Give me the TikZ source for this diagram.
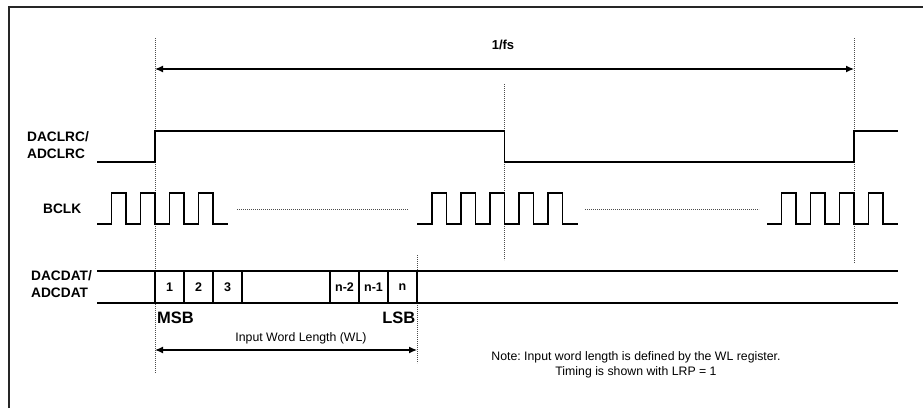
\documentclass[tikz,border=0pt]{standalone}
\usepackage{fontspec}
\setmainfont{Liberation Sans}
\usetikzlibrary{arrows.meta}
\begin{document}
\frenchspacing
\begin{tikzpicture}[x=1pt,y=-1pt,
  sig/.style={line width=1.5pt, line join=miter},
  rail/.style={line width=1.3pt},
  guide/.style={line width=0.6pt, black!70, dash pattern=on 0.8pt off 1.2pt},
  clkdots/.style={line width=0.6pt, black!70, dash pattern=on 0.8pt off 1.2pt},
  dimarrow/.style={line width=1.3pt, {Latex[length=8pt,width=7pt]}-{Latex[length=8pt,width=7pt]}},
  lbl/.style={font=\fontsize{13.7}{17}\selectfont\bfseries, inner sep=0pt, align=left, anchor=west},
  bit/.style={draw, line width=1.3pt, minimum width=29pt, minimum height=32pt, inner sep=0pt, font=\fontsize{12.5}{14}\selectfont\bfseries},
  note/.style={font=\fontsize{12.3}{15}\selectfont, inner sep=0pt, align=center},
  frame/.style={line width=1.5pt, black!85}]
\useasboundingbox (0,0) rectangle (923,408);

% frame (cropped at right and bottom)
\coordinate (fbl) at (9,408);
\coordinate (ftl) at (9,7);
\coordinate (ftr) at (923,7);
\draw[frame] (fbl) -- (ftl) -- (ftr);

% guide lines
\coordinate (g1t) at (155,38);  \coordinate (g1b) at (155,373);
\coordinate (g2t) at (504.5,84); \coordinate (g2b) at (504.5,260);
\coordinate (g3t) at (854,38);  \coordinate (g3b) at (854,263);
\coordinate (g4t) at (417,255); \coordinate (g4b) at (417,363);
\draw[guide] (g1t) -- (g1b);
\draw[guide] (g2t) -- (g2b);
\draw[guide] (g3t) -- (g3b);
\draw[guide] (g4t) -- (g4b);

% 1/fs
\coordinate (fsL) at (155,69);
\coordinate (fsR) at (854,69);
\draw[dimarrow] (fsL) -- (fsR);
\node[font=\fontsize{13}{15}\selectfont\bfseries, inner sep=0pt] (fs) at (503,45) {1/fs};

% labels
\node[lbl] (lrc) at (27,145.5) {DACLRC/\\ADCLRC};
\node[lbl] (bclk) at (43,209) {BCLK};
\node[lbl] (dat) at (31,284.5) {DACDAT/\\ADCDAT};

% LRC waveform
\draw[sig] (97,162) -- (155,162) -- (155,131) -- (504.5,131) -- (504.5,162) -- (854,162) -- (854,131) -- (898,131);

% BCLK waveform
\draw[sig] (97,224) foreach \r in {111.5,140.5,169.5,198.5} { -- (\r,224) -- (\r,193) -- ({\r+14.5},193) -- ({\r+14.5},224) } -- (228,224);
\draw[sig] (417,224) foreach \r in {432,461,490,519,548} { -- (\r,224) -- (\r,193) -- ({\r+14.5},193) -- ({\r+14.5},224) } -- (578,224);
\draw[sig] (767,224) foreach \r in {781.5,810.5,839.5,868.5} { -- (\r,224) -- (\r,193) -- ({\r+14.5},193) -- ({\r+14.5},224) } -- (898,224);
\coordinate (d1a) at (237,209); \coordinate (d1b) at (408,209);
\coordinate (d2a) at (585,209); \coordinate (d2b) at (759,209);
\draw[clkdots] (d1a) -- (d1b);
\draw[clkdots] (d2a) -- (d2b);

% data rails
\coordinate (rtL) at (97,271); \coordinate (rtR) at (898,271);
\coordinate (rbL) at (97,303); \coordinate (rbR) at (898,303);
\draw[rail] (rtL) -- (rtR);
\draw[rail] (rbL) -- (rbR);

% bit boxes
\node[bit] (b1) at (169.5,287) {1};
\node[bit] (b2) at (198.5,287) {2};
\node[bit] (b3) at (227.5,287) {3};
\node[bit] (bn2) at (344.5,287) {n-2};
\node[bit] (bn1) at (373.5,287) {n-1};
\node[bit] (bn) at (402.5,287) {n};

% MSB / LSB
\node[font=\fontsize{16.5}{18}\selectfont\bfseries, anchor=west, inner sep=0pt] (msb) at (157,318) {MSB};
\node[font=\fontsize{16.5}{18}\selectfont\bfseries, anchor=east, inner sep=0pt] (lsb) at (415.5,318) {LSB};

% word length
\coordinate (wlL) at (155,350);
\coordinate (wlR) at (417,350);
\draw[dimarrow] (wlL) -- (wlR);
\node[note] (wl) at (301,338) {Input Word Length (WL)};

% note
\node[note] (nt) at (636,364.5) {Note: Input word length is defined by the WL register.\\Timing is shown with LRP = 1};
\end{tikzpicture}
\end{document}
